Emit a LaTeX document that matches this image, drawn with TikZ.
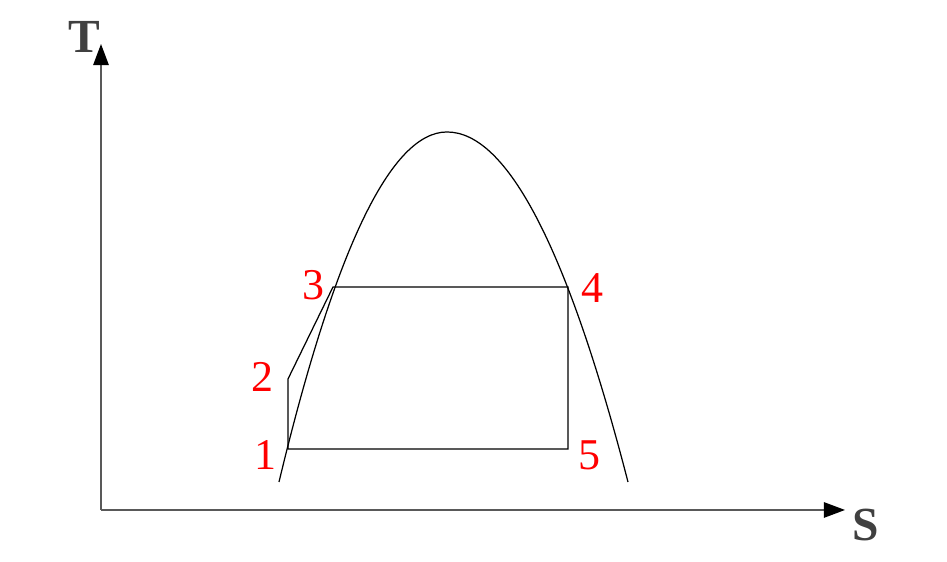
\documentclass[tikz,border=0pt]{standalone}
\usepackage{fontspec}
\setmainfont{Liberation Serif}
\usetikzlibrary{arrows.meta}
\begin{document}
\begin{tikzpicture}[x=0.01cm,y=-0.01cm,
  axis/.style={draw=black!65,line width=0.4pt,-{Triangle[length=6pt,width=4.4pt,color=black]}},
  thin/.style={draw=black,line width=0.35pt},
  num/.style={text=red,font=\fontsize{12.5pt}{12.5pt}\selectfont,inner sep=0pt},
  axlab/.style={text=black!75,font=\fontsize{13.5pt}{13.5pt}\selectfont\bfseries,inner sep=0pt}]
\useasboundingbox (0,0) rectangle (947,562);
\coordinate (O) at (101,510);
\coordinate (Ty) at (101,44);
\coordinate (Sx) at (845,510);
\draw[axis] (O) -- (Ty);
\draw[axis] (O) -- (Sx);
\node[axlab] (T) at (84,37) {T};
\node[axlab] (S) at (866,525) {S};
% saturation dome
\coordinate (L) at (279,482);
\coordinate (V) at (447,132);
\coordinate (R) at (628,482);
\draw[thin] (L) .. controls (335,248.67) and (391,132) .. (V)
  .. controls (507.33,132) and (567.67,248.67) .. (R);
% cycle
\coordinate (p1) at (288,449);
\coordinate (p2) at (288,379);
\coordinate (p3) at (333,287);
\coordinate (p4) at (568,287);
\coordinate (p5) at (568,449);
\draw[thin] (p1) -- (p2) -- (p3) -- (p4) -- (p5) -- cycle;
\node[num] (n1) at (265,455) {1};
\node[num] (n2) at (262,377) {2};
\node[num] (n3) at (313,285) {3};
\node[num] (n4) at (592,288) {4};
\node[num] (n5) at (589,455) {5};
\end{tikzpicture}
\end{document}
